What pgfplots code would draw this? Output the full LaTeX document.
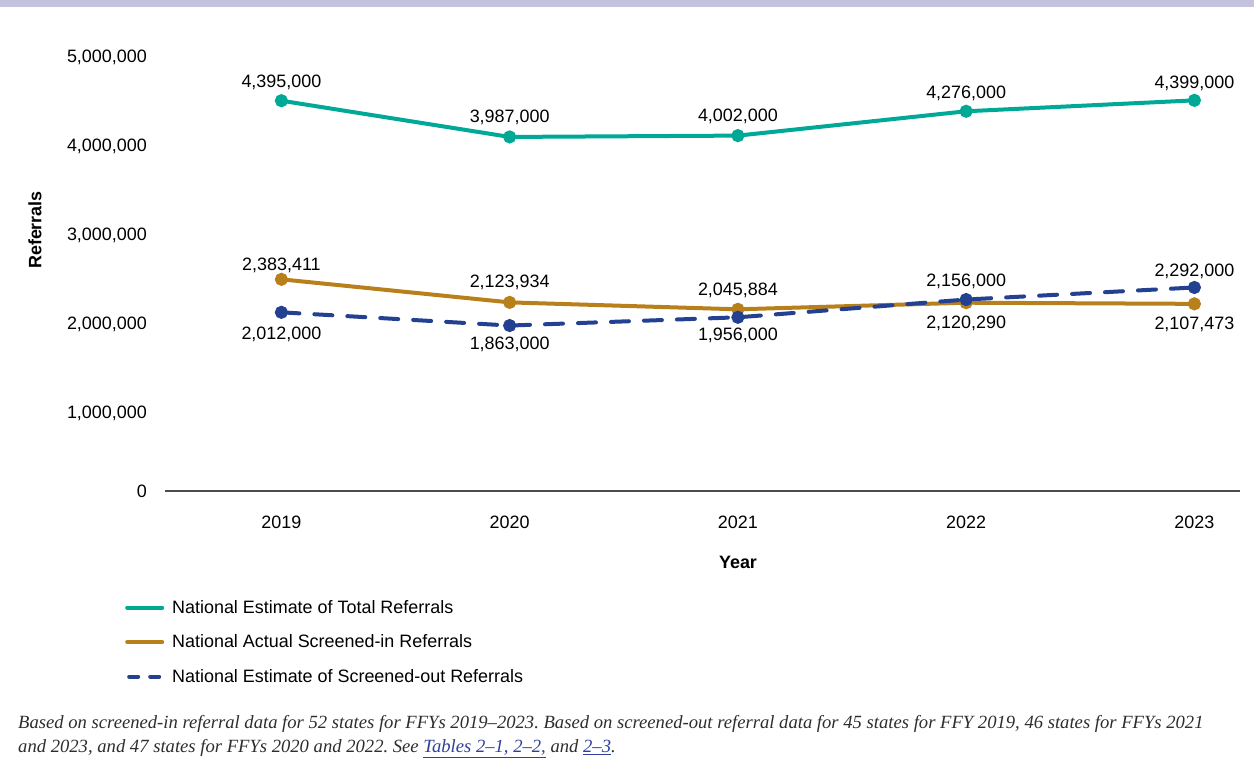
\documentclass[border=0pt]{standalone}
\usepackage{pgfplots}
\pgfplotsset{compat=1.18}
\usepackage{fontspec}
\setmainfont{Liberation Sans}
\newfontfamily\notefont{Liberation Serif}
\definecolor{cteal}{RGB}{0,168,150}
\definecolor{corange}{RGB}{184,128,26}
\definecolor{cblue}{RGB}{35,64,145}
\definecolor{band}{RGB}{195,195,224}
\definecolor{linkblue}{RGB}{46,63,156}
\definecolor{notegray}{RGB}{45,45,45}
\newcommand\lblfont{\fontsize{18}{21}\selectfont}
\tikzset{lbl/.style={font=\lblfont, inner sep=0pt, anchor=center}}
\frenchspacing
\begin{document}
\begin{tikzpicture}[x=1bp,y=1bp]
\path (0,0) rectangle (1254,774);
\fill[band] (0,767) rectangle (1254,774);
\begin{axis}[
 at={(165bp,283bp)}, anchor=south west,
 scale only axis, width=1075bp, height=444bp,
 xmin=2018.49, xmax=2023.2, ymin=0, ymax=5000000,
 axis x line=bottom, axis y line=left,
 x axis line style={-, draw=black!70, line width=1.2bp},
 y axis line style={draw=none},
 major tick length=0pt,
 scaled y ticks=false,
 xtick={2019,2020,2021,2022,2023},
 xticklabels={2019,2020,2021,2022,2023},
 ytick={0,878000,1878000,2878000,3878000,4878000},
 yticklabels={0,{1,000,000},{2,000,000},{3,000,000},{4,000,000},{5,000,000}},
 ticklabel style={font=\lblfont, text=black},
 xticklabel style={anchor=center, inner sep=0pt, yshift=-31bp},
 yticklabel style={anchor=east, inner sep=0pt, xshift=-18bp},
 clip=false,
 legend style={at={(axis description cs:-0.04,-0.239)}, anchor=north west, draw=none, fill=none,
   font=\lblfont, row sep=18bp, column sep=7bp, nodes={inner sep=1bp}},
 legend cell align=left,
]
\addplot[cteal, line width=4bp, line cap=round, mark=*, mark size=4.5bp, mark options={solid, draw=none, fill=cteal},
  legend image code/.code={\draw[cteal, line width=4bp, line cap=round] (0bp,0bp) -- (35bp,0bp);}]
 coordinates {(2019,4395000) (2020,3987000) (2021,4002000) (2022,4276000) (2023,4399000)};
\addlegendentry{National Estimate of Total Referrals}
\addplot[corange, line width=4bp, line cap=round, mark=*, mark size=4.5bp, mark options={solid, draw=none, fill=corange},
  legend image code/.code={\draw[corange, line width=4bp, line cap=round] (0bp,0bp) -- (35bp,0bp);}]
 coordinates {(2019,2383411) (2020,2123934) (2021,2045884) (2022,2120290) (2023,2107473)};
\addlegendentry{National Actual Screened-in Referrals}
\addplot[cblue, line width=4bp, line cap=round, dash pattern=on 18bp off 15bp, mark=*, mark size=4.5bp, mark options={solid, draw=none, fill=cblue},
  legend image code/.code={\draw[cblue, line width=4bp, line cap=round, dash pattern=on 9bp off 12bp] (2bp,0bp) -- (35bp,0bp);}]
 coordinates {(2019,2012000) (2020,1863000) (2021,1956000) (2022,2156000) (2023,2292000)};
\addlegendentry{National Estimate of Screened-out Referrals}
% labels teal
\node[lbl, yshift=18bp] at (axis cs:2019,4395000) {4,395,000};
\node[lbl, yshift=20bp] at (axis cs:2020,3987000) {3,987,000};
\node[lbl, yshift=19bp] at (axis cs:2021,4002000) {4,002,000};
\node[lbl, yshift=18bp] at (axis cs:2022,4276000) {4,276,000};
\node[lbl, yshift=17bp] at (axis cs:2023,4399000) {4,399,000};
% orange
\node[lbl, yshift=14bp] at (axis cs:2019,2383411) {2,383,411};
\node[lbl, yshift=20bp] at (axis cs:2020,2123934) {2,123,934};
\node[lbl, yshift=19bp] at (axis cs:2021,2045884) {2,045,884};
\node[lbl, yshift=-21bp] at (axis cs:2022,2120290) {2,120,290};
\node[lbl, yshift=-21bp] at (axis cs:2023,2107473) {2,107,473};
% blue
\node[lbl, yshift=-22bp] at (axis cs:2019,2012000) {2,012,000};
\node[lbl, yshift=-19bp] at (axis cs:2020,1863000) {1,863,000};
\node[lbl, yshift=-18bp] at (axis cs:2021,1956000) {1,956,000};
\node[lbl, yshift=18bp] at (axis cs:2022,2156000) {2,156,000};
\node[lbl, yshift=16bp] at (axis cs:2023,2292000) {2,292,000};
\end{axis}
\node[font=\bfseries\lblfont] at (738,212) {Year};
\node[font=\bfseries\lblfont, rotate=90] at (35,544) {Referrals};
\node[anchor=base west, inner sep=0pt, font=\notefont\itshape\fontsize{18.7}{21}\selectfont, text=notegray] at (18,45)
 {Based on screened-in referral data for 52 states for FFYs 2019–2023. Based on screened-out referral data for 45 states for FFY 2019, 46 states for FFYs 2021};
\node[anchor=base west, inner sep=0pt, font=\notefont\itshape\fontsize{18.7}{21}\selectfont, text=notegray] at (18,21)
 {and 2023, and 47 states for FFYs 2020 and 2022. See {\color{linkblue}\underline{Tables 2–1, 2–2,}} and {\color{linkblue}\underline{2–3}}.};
\end{tikzpicture}
\end{document}
